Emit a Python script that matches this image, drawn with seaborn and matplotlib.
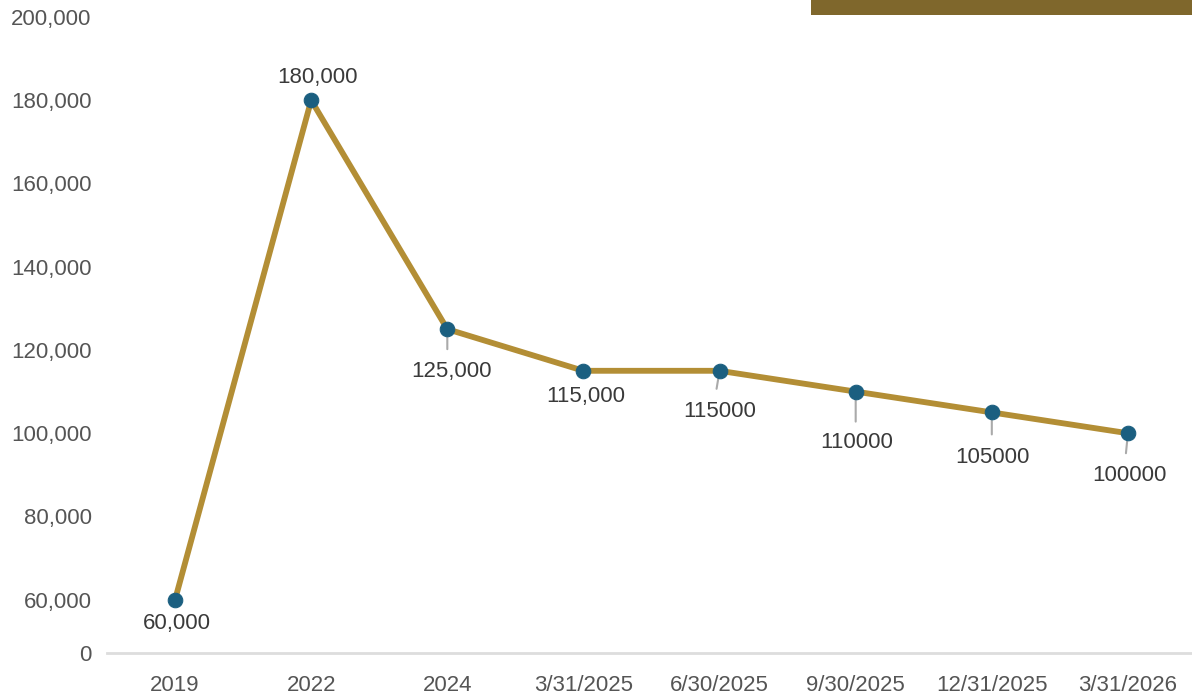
import matplotlib.pyplot as plt
import pandas as pd
import seaborn as sns
from matplotlib.patches import Rectangle

# chart data
periods = ["2019", "2022", "2024", "3/31/2025", "6/30/2025",
           "9/30/2025", "12/31/2025", "3/31/2026"]
values = [60000, 180000, 125000, 115000, 115000, 110000, 105000, 100000]
point_labels = ["60,000", "180,000", "125,000", "115,000", "115000",
                "110000", "105000", "100000"]
y_ticks = [47200, 60000, 80000, 100000, 120000, 140000, 160000, 180000, 200000]
y_tick_labels = ["0", "60,000", "80,000", "100,000", "120,000", "140,000",
                 "160,000", "180,000", "200,000"]

# label placement (pixel offsets from the point) and leader line ends
label_offsets = [(2, -24), (6, 23), (4, -42), (2, -26), (0, -41),
                 (1, -51), (1, -45), (2, -42)]
leader_ends = [None, None, (0, -20), None, (-3, -18), (0, -30), (0, -22), (-2, -20)]

LINE = "#B38E35"
DOT = "#1B5F80"
TEXT = "#3a3a3a"
TICK = "#555555"

sns.set_theme(style="white")
plt.rcParams["font.family"] = ["Liberation Sans", "DejaVu Sans"]

df = pd.DataFrame({"period": periods, "value": values})

fig = plt.figure(figsize=(11.92, 6.97), dpi=100)
ax = fig.add_axes([107 / 1192, 44 / 697, 1089 / 1192, 636 / 697])

sns.lineplot(
    data=df, x="period", y="value", sort=False, ax=ax,
    color=LINE, linewidth=4.2, marker="o", markersize=10.5,
    markerfacecolor=DOT, markeredgecolor=DOT, zorder=3,
)

for i, (val, lab) in enumerate(zip(values, point_labels)):
    dx, dy = label_offsets[i]
    ax.annotate(lab, xy=(i, val), xytext=(dx, dy), textcoords="offset pixels",
                ha="center", va="center", fontsize=16, color=TEXT, zorder=4)
    if leader_ends[i] is not None:
        ax.annotate("", xy=(i, val), xytext=leader_ends[i],
                    textcoords="offset pixels",
                    arrowprops=dict(arrowstyle="-", color="#aaaaaa", lw=1.5,
                                    shrinkA=0, shrinkB=0),
                    zorder=1)

ax.set_xlim(-0.5, 7.5)
ax.set_ylim(47200, 200000)
ax.set_yticks(y_ticks)
ax.set_yticklabels(y_tick_labels)
ax.tick_params(axis="y", length=0, pad=11, labelsize=16, labelcolor=TICK)
ax.tick_params(axis="x", length=0, pad=16, labelsize=16, labelcolor=TICK)
ax.set_xlabel("")
ax.set_ylabel("")
for side in ["top", "right", "left"]:
    ax.spines[side].set_visible(False)
ax.spines["bottom"].set_color("#dddddd")
ax.spines["bottom"].set_linewidth(2)
ax.grid(False)

# banner stub at the top right
fig.patches.append(Rectangle((811 / 1192, 1 - 15 / 697), 381 / 1192, 15 / 697,
                             transform=fig.transFigure, facecolor="#7F672C",
                             edgecolor="none", zorder=0))

fig.savefig("out.png", dpi=100)
